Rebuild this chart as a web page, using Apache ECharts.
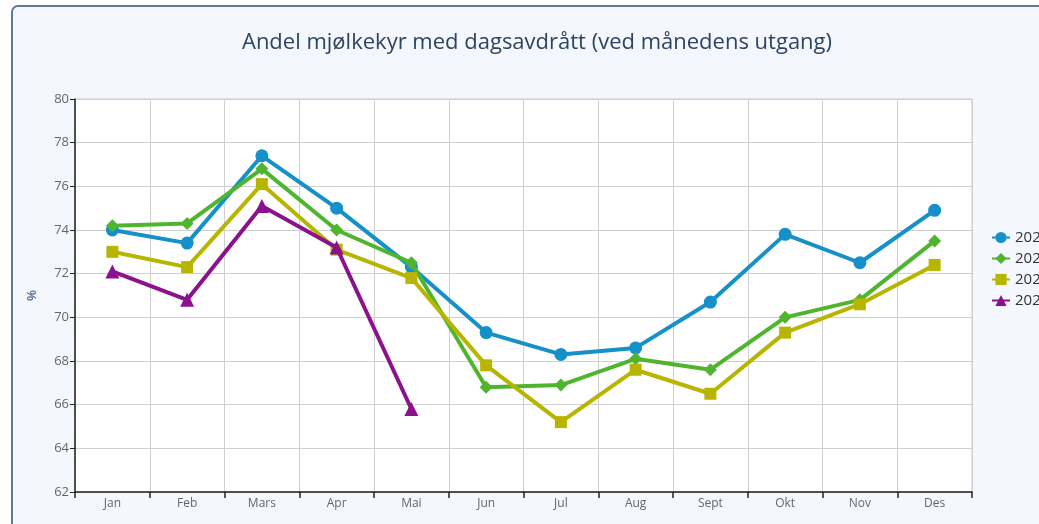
<!DOCTYPE html>
<html lang="no">
<head>
    <meta charset="UTF-8">
    <title>Andel mjølkekyr med dagsavdrått</title>
    <script src="https://cdn.jsdelivr.net/npm/echarts@6/dist/echarts.min.js"></script>
    <style>
        html, body { margin: 0; padding: 0; background: #ffffff; overflow: hidden; }
    </style>
</head>
<body>
    <div id="chart" style="width:1039px;height:524px;"></div>
<script>
// data
var months = ['Jan', 'Feb', 'Mars', 'Apr', 'Mai', 'Jun', 'Jul', 'Aug', 'Sept', 'Okt', 'Nov', 'Des'];
var years = ['2021', '2022', '2023', '2024'];
var serie1 = [74.0, 73.4, 77.4, 75.0, 72.3, 69.3, 68.3, 68.6, 70.7, 73.8, 72.5, 74.9];
var serie2 = [74.2, 74.3, 76.8, 74.0, 72.5, 66.8, 66.9, 68.1, 67.6, 70.0, 70.8, 73.5];
var serie3 = [73.0, 72.3, 76.1, 73.1, 71.8, 67.8, 65.2, 67.6, 66.5, 69.3, 70.6, 72.4];
var serie4 = [72.1, 70.8, 75.1, 73.2, 65.8];
var yMin = 62, yMax = 80, yStep = 2;

var farger = ['#1590c9', '#4fb52e', '#b7b500', '#8b128c'];
var symboler = ['circle', 'diamond', 'rect', 'triangle'];
var storrelser = [13, 13, 12, 14];
var alleData = [serie1, serie2, serie3, serie4];

var myChart = echarts.init(document.getElementById('chart'));

var series = years.map(function (navn, i) {
    return {
        name: navn,
        type: 'line',
        data: alleData[i],
        symbol: symboler[i],
        symbolSize: storrelser[i],
        showAllSymbol: true,
        color: farger[i],
        lineStyle: { width: 4, color: farger[i] },
        itemStyle: { color: farger[i] },
        emphasis: { disabled: true },
        z: 3 + i
    };
});

var option = {
    backgroundColor: '#ffffff',
    animation: false,
    graphic: [{
        // ramme rundt hele figuren
        type: 'rect',
        z: -10,
        shape: { x: 12, y: 6, width: 1040, height: 530, r: 6 },
        style: { fill: '#f4f7fd', stroke: '#5d78a6', lineWidth: 2 }
    }],
    title: {
        text: 'Andel mjølkekyr med dagsavdrått (ved månedens utgang)',
        left: 532,
        textAlign: 'center',
        top: 27,
        textStyle: {
            fontFamily: 'Open Sans',
            fontSize: 22,
            fontWeight: 'normal',
            color: '#2e4560'
        }
    },
    legend: {
        orient: 'vertical',
        left: 986,
        top: 225,
        itemGap: 6,
        itemWidth: 18,
        itemHeight: 14,
        data: years,
        textStyle: { fontFamily: 'Open Sans', fontSize: 15, color: '#333' }
    },
    grid: {
        left: 75,
        right: 67,
        top: 99,
        bottom: 32,
        show: true,
        backgroundColor: '#ffffff',
        borderColor: '#c8c8c8',
        borderWidth: 1
    },
    xAxis: {
        type: 'category',
        data: months,
        boundaryGap: true,
        axisLine: { lineStyle: { color: '#222', width: 1.5 } },
        axisTick: { show: true, length: 6, lineStyle: { color: '#222', width: 1.5 } },
        axisLabel: { color: '#666', fontSize: 12, fontFamily: 'Liberation Sans Narrow, Open Sans', margin: 6 },
        splitLine: { show: true, lineStyle: { color: '#d0d0d0', width: 1 } }
    },
    yAxis: {
        type: 'value',
        min: yMin,
        max: yMax,
        interval: yStep,
        name: '%',
        nameLocation: 'middle',
        nameGap: 36,
        nameTextStyle: { color: '#4a6a96', fontSize: 12, fontWeight: 'bold' },
        axisLine: { show: true, lineStyle: { color: '#222', width: 1.5 } },
        axisTick: { show: true, length: 5, lineStyle: { color: '#222' } },
        axisLabel: { color: '#666', fontSize: 13, fontFamily: 'Open Sans', margin: 6 },
        splitLine: { show: true, lineStyle: { color: '#d0d0d0', width: 1 } }
    },
    series: series
};

myChart.setOption(option);
</script>
</body>
</html>
